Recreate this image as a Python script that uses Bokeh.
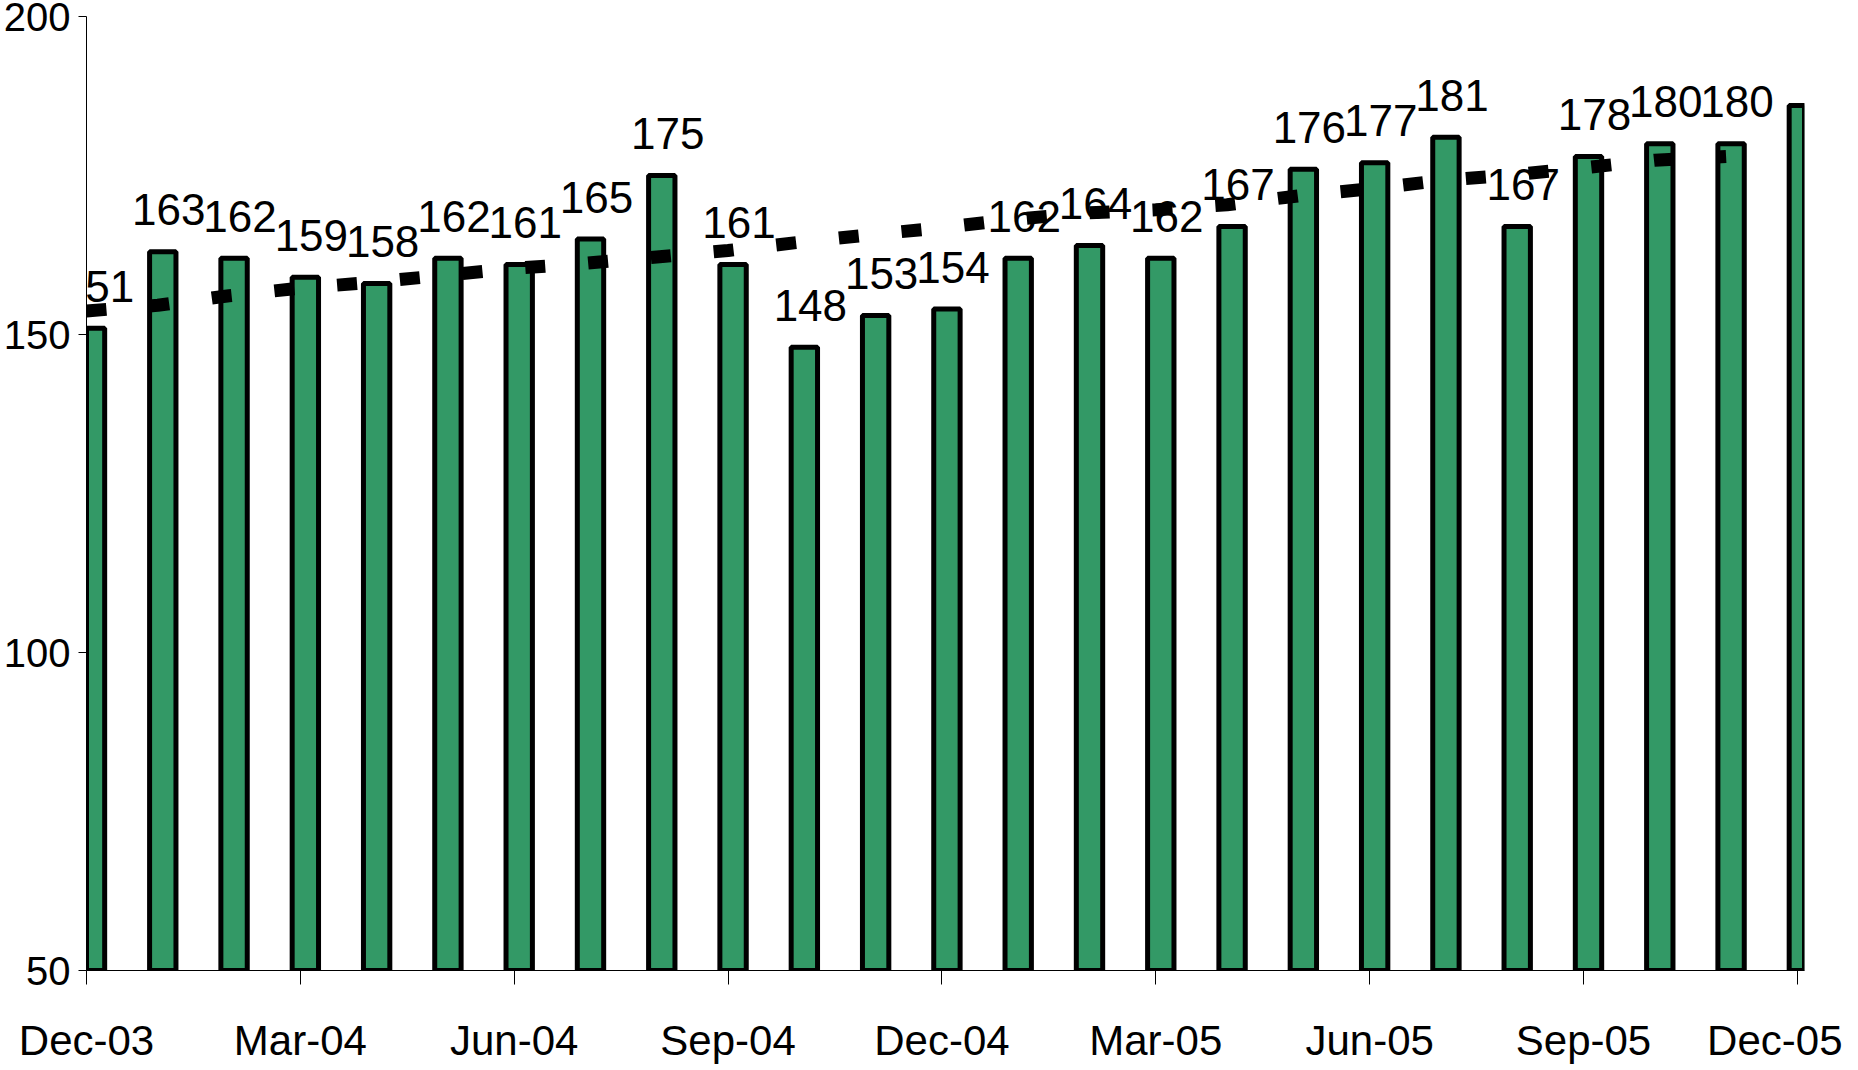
from bokeh.plotting import figure
from bokeh.models import FixedTicker, Range1d
from bokeh.embed import file_html
from bokeh.resources import INLINE
from bokeh.core.properties import value

months = ["Dec-03", "Jan-04", "Feb-04", "Mar-04", "Apr-04", "May-04", "Jun-04",
          "Jul-04", "Aug-04", "Sep-04", "Oct-04", "Nov-04", "Dec-04", "Jan-05",
          "Feb-05", "Mar-05", "Apr-05", "May-05", "Jun-05", "Jul-05", "Aug-05",
          "Sep-05", "Oct-05", "Nov-05", "Dec-05"]
values = [151, 163, 162, 159, 158, 162, 161, 165, 175, 161, 148, 153, 154,
          162, 164, 162, 167, 176, 177, 181, 167, 178, 180, 180, 186]
labelled = 24  # the last bar carries no value label
trend = [153.7, 154.6, 156.1, 157.3, 158.2, 159.3, 160.4, 161.2, 162.2, 163.2,
         164.5, 165.7, 166.8, 168.1, 169.1, 169.6, 170.4, 171.8, 172.9, 174.2,
         175.1, 176.2, 177.4, 178.0]
y_ticks = [50, 100, 150, 200]
x_tick_every = 3

FONT = "Liberation Sans"
BAR_SHIFT = 0.07

idx = list(range(len(months)))
bar_x = [i + BAR_SHIFT for i in idx]

p = figure(width=1842, height=1066, output_backend="svg", toolbar_location=None,
           x_range=Range1d(0, 24.1), y_range=Range1d(50, 200),
           min_border_left=86, min_border_right=38, min_border_top=16,
           min_border_bottom=94)
p.outline_line_color = None
p.xgrid.visible = False
p.ygrid.visible = False
p.background_fill_color = "white"
p.border_fill_color = "white"

p.vbar(x=bar_x, top=values, bottom=50, width=0.37, fill_color="#339966",
       line_color="black", line_width=5)

p.line(x=idx[:len(trend)], y=trend, line_color="black", line_width=13,
       line_dash="20 43", line_cap="butt")

p.text(x=bar_x[:labelled], y=values[:labelled],
       text=[str(v) for v in values[:labelled]],
       text_font=value(FONT), text_font_size="44px", text_color="black",
       text_align="center", text_baseline="alphabetic",
       x_offset=6, y_offset=-42)

ticks_x = idx[::x_tick_every]
p.xaxis.ticker = FixedTicker(ticks=ticks_x)
p.xaxis.major_label_overrides = {i: months[i] for i in ticks_x}
p.yaxis.ticker = FixedTicker(ticks=y_ticks)

for ax in (p.xaxis, p.yaxis):
    ax.axis_line_color = "black"
    ax.axis_line_width = 1
    ax.major_tick_line_color = "black"
    ax.major_tick_line_width = 1
    ax.major_tick_in = 0
    ax.minor_tick_line_color = None
    ax.major_label_text_font = FONT
    ax.major_label_text_color = "black"

p.xaxis.major_label_text_font_size = "42px"
p.yaxis.major_label_text_font_size = "40px"
p.xaxis.major_tick_out = 14
p.xaxis.major_label_standoff = 32
p.yaxis.major_tick_out = 8
p.yaxis.major_label_standoff = 8

open("out.html", "w").write(file_html(p, INLINE))
